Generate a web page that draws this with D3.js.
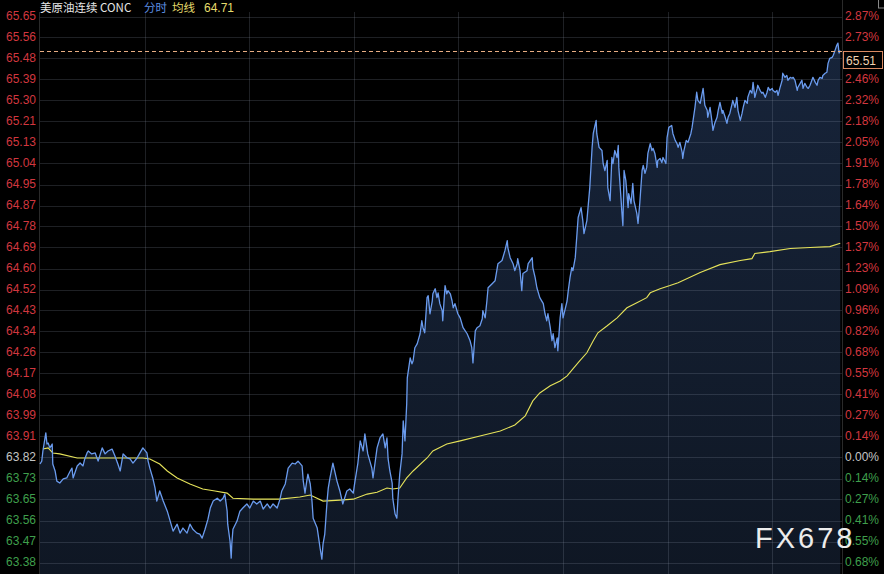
<!DOCTYPE html>
<html><head><meta charset="utf-8">
<script src="https://cdn.jsdelivr.net/npm/d3@7"></script>
<style>html,body{margin:0;padding:0;background:#000;overflow:hidden}</style>
</head><body><svg id="c" width="884" height="574"></svg>
<script>
// ---------------- data ----------------
const prevClose = 63.82;
const stepPct = 0.13667;          // percent per grid row
const rowsBelow = 5, rowsAbove = 21;
const priceLabels = ["63.38","63.47","63.56","63.65","63.73","63.82","63.91","63.99","64.08","64.17","64.26","64.34","64.43","64.52","64.60","64.69","64.78","64.87","64.95","65.04","65.13","65.21","65.30","65.39","65.48","65.56","65.65"];
const pctLabels = ["0.68%","0.55%","0.41%","0.27%","0.14%","0.00%","0.14%","0.27%","0.41%","0.55%","0.68%","0.82%","0.96%","1.09%","1.23%","1.37%","1.50%","1.64%","1.78%","1.91%","2.05%","2.18%","2.32%","2.46%","2.60%","2.73%","2.87%"];
const sessionMinutes = 1380;
const gridEveryMinutes = 180;
const lastPrice = 65.51;
const titleText = "美原油连续 CONC";
const modeText = "分时";
const avgText = "均线";
const avgValueText = "64.71";
const watermark = "FX678";

// [minute, price]
const priceSeries = [
[0,63.793],[3,63.805],[5,63.847],[10,63.922],[12,63.876],[14,63.880],[17,63.860],[21,63.876],[22,63.793],[26,63.764],[29,63.722],[34,63.714],[40,63.731],[46,63.735],[52,63.764],[55,63.776],[57,63.735],[64,63.785],[69,63.797],[74,63.785],[77,63.814],[81,63.839],[83,63.847],[89,63.835],[95,63.839],[100,63.805],[107,63.860],[112,63.835],[117,63.847],[124,63.855],[129,63.826],[134,63.793],[138,63.764],[143,63.835],[150,63.818],[155,63.814],[160,63.797],[167,63.818],[172,63.839],[177,63.860],[184,63.839],[186,63.805],[189,63.776],[194,63.735],[198,63.693],[201,63.639],[206,63.681],[212,63.639],[219,63.597],[224,63.556],[229,63.514],[236,63.543],[241,63.506],[246,63.527],[253,63.506],[258,63.543],[263,63.522],[270,63.506],[275,63.502],[279,63.485],[284,63.522],[289,63.564],[293,63.610],[298,63.639],[305,63.651],[310,63.639],[315,63.651],[318,63.668],[322,63.597],[323,63.543],[327,63.473],[329,63.402],[330,63.460],[332,63.522],[339,63.556],[344,63.597],[349,63.610],[356,63.627],[361,63.610],[367,63.639],[373,63.627],[379,63.639],[384,63.606],[391,63.627],[396,63.610],[401,63.627],[408,63.610],[413,63.647],[416,63.681],[422,63.710],[427,63.776],[434,63.797],[439,63.793],[444,63.805],[451,63.785],[453,63.722],[456,63.672],[459,63.722],[461,63.751],[465,63.710],[468,63.639],[470,63.568],[477,63.527],[482,63.443],[485,63.398],[487,63.460],[490,63.502],[494,63.639],[496,63.693],[499,63.735],[504,63.797],[511,63.722],[516,63.681],[521,63.627],[528,63.681],[533,63.689],[539,63.672],[542,63.722],[547,63.797],[551,63.889],[556,63.847],[559,63.918],[564,63.835],[571,63.776],[573,63.735],[580,63.860],[585,63.901],[590,63.918],[594,63.860],[597,63.901],[599,63.814],[602,63.764],[606,63.714],[607,63.651],[611,63.585],[614,63.568],[616,63.651],[619,63.751],[623,63.835],[625,63.972],[628,63.889],[631,64.043],[632,64.151],[633,64.167],[637,64.234],[640,64.209],[642,64.222],[645,64.276],[649,64.292],[654,64.334],[657,64.388],[659,64.359],[662,64.338],[666,64.484],[668,64.492],[671,64.417],[675,64.471],[676,64.500],[680,64.521],[683,64.484],[685,64.504],[688,64.459],[692,64.430],[693,64.388],[697,64.534],[700,64.500],[702,64.513],[706,64.500],[709,64.471],[711,64.442],[714,64.459],[719,64.417],[723,64.400],[728,64.359],[735,64.334],[740,64.305],[743,64.276],[745,64.213],[749,64.346],[752,64.359],[757,64.367],[761,64.396],[762,64.430],[766,64.400],[769,64.471],[771,64.525],[778,64.542],[783,64.554],[786,64.596],[788,64.625],[795,64.638],[800,64.679],[804,64.721],[805,64.692],[809,64.650],[814,64.625],[817,64.596],[821,64.625],[822,64.646],[826,64.596],[829,64.513],[831,64.584],[838,64.596],[840,64.625],[847,64.650],[848,64.609],[852,64.567],[855,64.525],[860,64.484],[866,64.459],[869,64.417],[872,64.388],[874,64.417],[878,64.359],[881,64.305],[883,64.334],[886,64.276],[890,64.317],[891,64.263],[895,64.400],[898,64.459],[900,64.400],[903,64.430],[907,64.471],[909,64.513],[912,64.567],[915,64.609],[917,64.596],[921,64.650],[924,64.750],[926,64.817],[931,64.858],[934,64.804],[936,64.750],[941,64.804],[946,64.941],[950,65.108],[952,65.166],[955,65.199],[957,65.220],[958,65.166],[962,65.108],[967,65.095],[969,65.041],[972,65.012],[976,65.054],[977,64.941],[981,64.887],[984,65.066],[986,65.041],[989,65.095],[993,65.066],[995,65.116],[996,65.025],[1000,64.887],[1001,64.846],[1003,64.783],[1005,65.012],[1008,64.971],[1012,64.858],[1013,64.916],[1017,64.875],[1020,64.958],[1022,64.887],[1027,64.833],[1029,64.792],[1032,64.875],[1036,65.012],[1038,65.033],[1041,65.000],[1044,65.025],[1046,65.083],[1050,65.124],[1053,65.095],[1055,65.104],[1058,65.083],[1062,65.025],[1063,65.054],[1067,65.062],[1070,65.045],[1072,65.066],[1077,65.041],[1079,65.149],[1082,65.191],[1087,65.199],[1089,65.166],[1093,65.137],[1096,65.124],[1098,65.108],[1101,65.129],[1105,65.087],[1106,65.062],[1108,65.095],[1112,65.137],[1115,65.129],[1120,65.166],[1122,65.191],[1127,65.274],[1130,65.337],[1132,65.303],[1136,65.291],[1141,65.353],[1144,65.283],[1148,65.262],[1149,65.233],[1153,65.274],[1156,65.220],[1158,65.179],[1161,65.208],[1165,65.233],[1167,65.262],[1170,65.295],[1174,65.249],[1175,65.262],[1179,65.233],[1182,65.208],[1184,65.233],[1187,65.249],[1191,65.291],[1192,65.303],[1196,65.274],[1199,65.316],[1201,65.262],[1205,65.220],[1208,65.249],[1210,65.274],[1213,65.303],[1217,65.291],[1218,65.316],[1222,65.345],[1225,65.333],[1227,65.378],[1230,65.316],[1234,65.353],[1235,65.366],[1239,65.345],[1242,65.333],[1244,65.337],[1248,65.316],[1251,65.337],[1253,65.357],[1256,65.345],[1260,65.353],[1261,65.345],[1265,65.337],[1268,65.345],[1270,65.324],[1273,65.353],[1277,65.387],[1278,65.416],[1282,65.399],[1285,65.407],[1287,65.387],[1291,65.399],[1294,65.395],[1296,65.399],[1299,65.387],[1303,65.345],[1304,65.357],[1308,65.374],[1311,65.387],[1313,65.353],[1316,65.374],[1320,65.357],[1322,65.353],[1325,65.366],[1330,65.399],[1334,65.378],[1337,65.366],[1339,65.387],[1342,65.399],[1346,65.395],[1347,65.407],[1351,65.416],[1354,65.420],[1356,65.457],[1359,65.478],[1363,65.482],[1365,65.491],[1368,65.511],[1371,65.532],[1373,65.541],[1375,65.500],[1377,65.510]
];

// [minute, average price]
const avgSeries = [
[5,63.855],[14,63.860],[22,63.839],[34,63.835],[64,63.818],[103,63.818],[177,63.818],[189,63.814],[206,63.793],[219,63.764],[236,63.735],[258,63.710],[280,63.689],[301,63.681],[322,63.672],[332,63.651],[367,63.647],[413,63.647],[447,63.656],[465,63.664],[487,63.639],[516,63.643],[539,63.647],[563,63.668],[580,63.676],[597,63.693],[607,63.689],[619,63.693],[631,63.735],[642,63.764],[666,63.818],[676,63.847],[700,63.876],[723,63.889],[757,63.909],[792,63.930],[817,63.955],[835,63.993],[848,64.055],[860,64.088],[878,64.118],[895,64.138],[907,64.159],[917,64.188],[929,64.222],[941,64.255],[952,64.305],[960,64.338],[976,64.367],[993,64.400],[1010,64.442],[1027,64.463],[1044,64.484],[1050,64.504],[1067,64.521],[1084,64.534],[1098,64.546],[1136,64.588],[1170,64.621],[1205,64.638],[1225,64.646],[1230,64.667],[1256,64.675],[1291,64.688],[1325,64.692],[1359,64.696],[1377,64.710]
];

// ---------------- drawing ----------------
const W = 884, H = 574;
const L = 40, R = 842, T = 12, B = 574;
const svg = d3.select("#c");
const numFont = "'Liberation Sans', Arial, sans-serif";
const cjkFont = "'Noto Sans CJK SC', 'Liberation Sans', sans-serif";

svg.append("rect").attr("width", W).attr("height", H).attr("fill", "#000");

const x = d3.scaleLinear().domain([0, sessionMinutes]).range([L, R]);
const y = d3.scaleLinear()
  .domain([prevClose * (1 - rowsBelow * stepPct / 100), prevClose * (1 + rowsAbove * stepPct / 100)])
  .range([562.5, 16.5]);

const defs = svg.append("defs");
const grad = defs.append("linearGradient").attr("id", "ag").attr("x1", 0).attr("y1", 0).attr("x2", 0).attr("y2", 1);
grad.append("stop").attr("offset", "0%").attr("stop-color", "#17243a");
grad.append("stop").attr("offset", "100%").attr("stop-color", "#0f1724");

// area under price
const area = d3.area().x(d => x(d[0])).y0(B).y1(d => y(d[1]));
svg.append("path").datum(priceSeries).attr("d", area).attr("fill", "url(#ag)");

// grid
const rows = d3.range(-rowsBelow, rowsAbove + 1);
const rowPrice = k => prevClose * (1 + k * stepPct / 100);
svg.append("g").selectAll("line").data(rows).join("line")
  .attr("x1", L).attr("x2", R)
  .attr("y1", k => Math.round(y(rowPrice(k))) + 0.5).attr("y2", k => Math.round(y(rowPrice(k))) + 0.5)
  .attr("stroke", "rgba(150,160,180,0.2)").attr("stroke-width", 1);
const vTicks = d3.range(gridEveryMinutes, sessionMinutes, gridEveryMinutes);
svg.append("g").selectAll("line").data(vTicks).join("line")
  .attr("x1", d => Math.round(x(d)) + 0.5).attr("x2", d => Math.round(x(d)) + 0.5)
  .attr("y1", T).attr("y2", B)
  .attr("stroke", "rgba(150,160,180,0.2)").attr("stroke-width", 1);

// borders
svg.append("line").attr("x1", L - 0.5).attr("x2", L - 0.5).attr("y1", T).attr("y2", B).attr("stroke", "#2a2a2a");
svg.append("line").attr("x1", R + 0.5).attr("x2", R + 0.5).attr("y1", 0).attr("y2", B).attr("stroke", "#2a2a2a");

// average line
const line = d3.line().x(d => x(d[0])).y(d => y(d[1]));
svg.append("path").datum(avgSeries).attr("d", line).attr("fill", "none")
  .attr("stroke", "#e6e35a").attr("stroke-width", 1.1);

// price line
svg.append("path").datum(priceSeries).attr("d", line).attr("fill", "none")
  .attr("stroke", "#6a9bee").attr("stroke-width", 1.3).attr("stroke-linejoin", "round");

// last price dashed line
const ly = Math.round(y(lastPrice)) + 0.5;
svg.append("line").attr("x1", L).attr("x2", R).attr("y1", ly).attr("y2", ly)
  .attr("stroke", "#e8ad82").attr("stroke-width", 1).attr("stroke-dasharray", "4,3");

const colorFor = k => k > 0 ? "#d2373f" : (k < 0 ? "#3f9f4c" : "#c4c4c4");

// left axis labels
svg.append("g").selectAll("text").data(rows).join("text")
  .attr("x", 36).attr("y", k => y(rowPrice(k)) - 1)
  .attr("text-anchor", "end").attr("dominant-baseline", "central")
  .attr("font-family", numFont).attr("font-size", 12)
  .attr("fill", colorFor)
  .text((k, i) => priceLabels[i]);

// right axis labels
svg.append("g").selectAll("text").data(rows).join("text")
  .attr("x", 845).attr("y", k => y(rowPrice(k)) - 1)
  .attr("text-anchor", "start").attr("dominant-baseline", "central")
  .attr("font-family", numFont).attr("font-size", 12)
  .attr("fill", colorFor)
  .text((k, i) => pctLabels[i]);

// last price box
svg.append("rect").attr("x", 843.5).attr("y", ly).attr("width", 39).attr("height", 17)
  .attr("fill", "#000").attr("stroke", "#d98a62").attr("stroke-width", 1);
svg.append("text").attr("x", 846).attr("y", ly + 9)
  .attr("dominant-baseline", "central").attr("font-family", numFont).attr("font-size", 12)
  .attr("fill", "#f2d2b0").text(lastPrice.toFixed(2));

// small icon at top right
svg.append("rect").attr("x", 878.5).attr("y", -1).attr("width", 6).attr("height", 9)
  .attr("fill", "none").attr("stroke", "#888");

// header
const hdr = svg.append("g").attr("font-size", 11.5);
hdr.append("text").attr("x", 40).attr("y", 12).attr("font-family", cjkFont).attr("fill", "#e4e4e4").text(titleText);
hdr.append("text").attr("x", 144).attr("y", 12).attr("font-family", cjkFont).attr("fill", "#5d8ee0").text(modeText);
hdr.append("text").attr("x", 172).attr("y", 12).attr("font-family", cjkFont).attr("fill", "#e6dc6c").text(avgText);
hdr.append("text").attr("x", 204).attr("y", 12).attr("font-family", numFont).attr("font-size", 12).attr("fill", "#e6dc6c").text(avgValueText);

// watermark
svg.append("text").attr("x", 755).attr("y", 548)
  .attr("font-family", numFont).attr("font-size", 29).attr("letter-spacing", 3)
  .attr("fill", "#ececec").text(watermark);
</script></body></html>
